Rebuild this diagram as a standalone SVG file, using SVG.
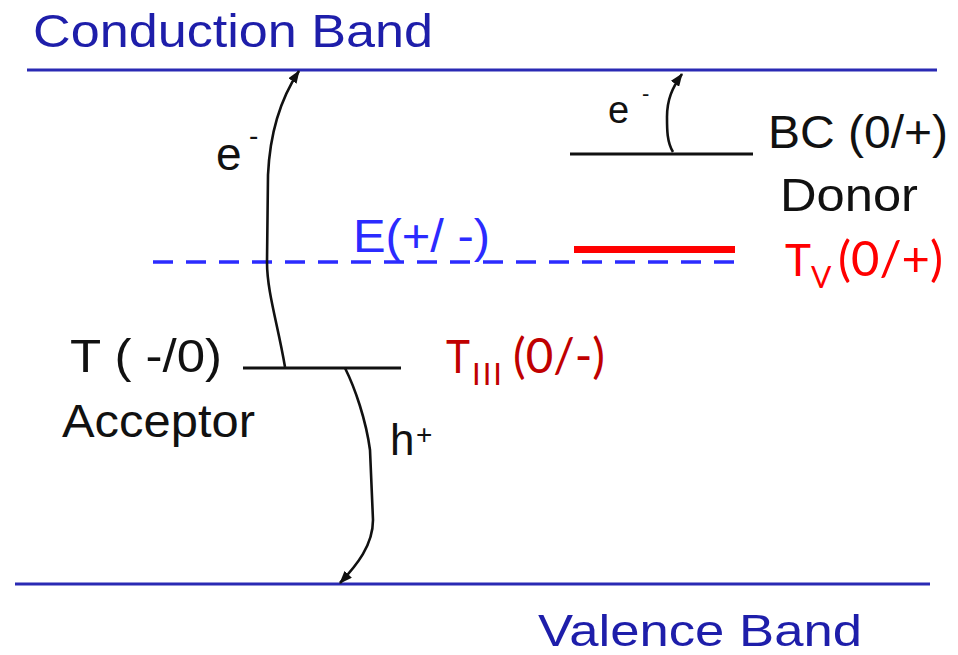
<svg xmlns="http://www.w3.org/2000/svg" width="958" height="655" viewBox="0 0 958 655">
<style>
.band{stroke:#2a2ab4;stroke-width:3;fill:none}
.lvl{stroke:#111;stroke-width:3;fill:none}
.lbl{font-family:"Liberation Sans",Arial,sans-serif;fill:#111}
.blue{font-family:"Liberation Sans",Arial,sans-serif;fill:#1e1eaa}
.red{font-family:Lato,"Liberation Sans",sans-serif}
.arr{stroke:#111;stroke-width:2.6;fill:none;marker-end:url(#ah)}
</style>
<defs>
<marker id="ah" markerUnits="userSpaceOnUse" markerWidth="14" markerHeight="10" refX="12" refY="5" orient="auto">
<path d="M0,0 L13,5 L0,10 Z" fill="#111"/>
</marker>
</defs>
<rect width="958" height="655" fill="#fff"/>
<g id="conduction-band">
<line class="band" x1="27" y1="70" x2="937" y2="70"/>
<text class="blue" x="33" y="47" font-size="47" textLength="400" lengthAdjust="spacingAndGlyphs">Conduction Band</text>
</g>
<g id="valence-band">
<line class="band" x1="15" y1="584" x2="930" y2="584"/>
<text class="blue" x="538" y="646" font-size="44" textLength="324" lengthAdjust="spacingAndGlyphs">Valence Band</text>
</g>
<g id="fermi-level">
<line x1="153" y1="262" x2="745" y2="262" stroke="#2b2bff" stroke-width="3.5" stroke-dasharray="20 13"/>
<text x="353" y="252" font-size="46" fill="#2b2bff" font-family="Liberation Sans,Arial,sans-serif" textLength="137" lengthAdjust="spacingAndGlyphs">E(+/ -)</text>
</g>
<g id="donor">
<line class="lvl" x1="570" y1="154" x2="753" y2="154"/>
<text class="lbl" x="768" y="148" font-size="47" textLength="180" lengthAdjust="spacingAndGlyphs">BC (0/+)</text>
<text class="lbl" x="780" y="211" font-size="47" textLength="138" lengthAdjust="spacingAndGlyphs">Donor</text>
</g>
<g id="acceptor">
<line class="lvl" x1="243" y1="368" x2="401" y2="368"/>
<text class="lbl" x="70" y="372" font-size="47" textLength="152" lengthAdjust="spacingAndGlyphs">T ( -/0)</text>
<text class="lbl" x="62" y="437" font-size="47" textLength="193" lengthAdjust="spacingAndGlyphs">Acceptor</text>
</g>
<g id="tv-level">
<line x1="574" y1="249.5" x2="735" y2="249.5" stroke="#ff0000" stroke-width="7"/>
<text class="red" x="785" y="276" font-size="44" fill="#ff0000">T</text>
<text class="red" x="811" y="288" font-size="30" fill="#ff0000">V</text>
<text class="red" x="838" y="276" font-size="48" fill="#ff0000" textLength="105" lengthAdjust="spacingAndGlyphs">(0/+)</text>
</g>
<g id="tiii-level">
<text class="red" x="446" y="373" font-size="47" fill="#c00000" textLength="24" lengthAdjust="spacingAndGlyphs">T</text>
<text class="red" x="472" y="385" font-size="31" fill="#c00000" textLength="30" lengthAdjust="spacing">III</text>
<text class="red" x="513" y="373" font-size="48" fill="#c00000" textLength="92" lengthAdjust="spacingAndGlyphs">(0/-)</text>
</g>
<g id="connectors">
<path class="arr" d="M285,367 C278,325 267,292 267,262 L268,175 C270,130 283,95 299,71"/>
<path class="arr" d="M673,152 C667,142 667,130 667,117 C667,100 672,88 682,74"/>
<path class="arr" d="M345,368 C355,388 366,420 370,450 L373,520 C373,545 357,565 340,583"/>
<text class="lbl" x="216" y="170" font-size="46">e</text>
<text class="lbl" x="249" y="145" font-size="28">-</text>
<text class="lbl" x="608" y="123" font-size="38">e</text>
<text class="lbl" x="642" y="101" font-size="22">-</text>
<text class="lbl" x="390" y="455" font-size="44">h</text>
<text class="lbl" x="416" y="444" font-size="28">+</text>
</g>
</svg>
